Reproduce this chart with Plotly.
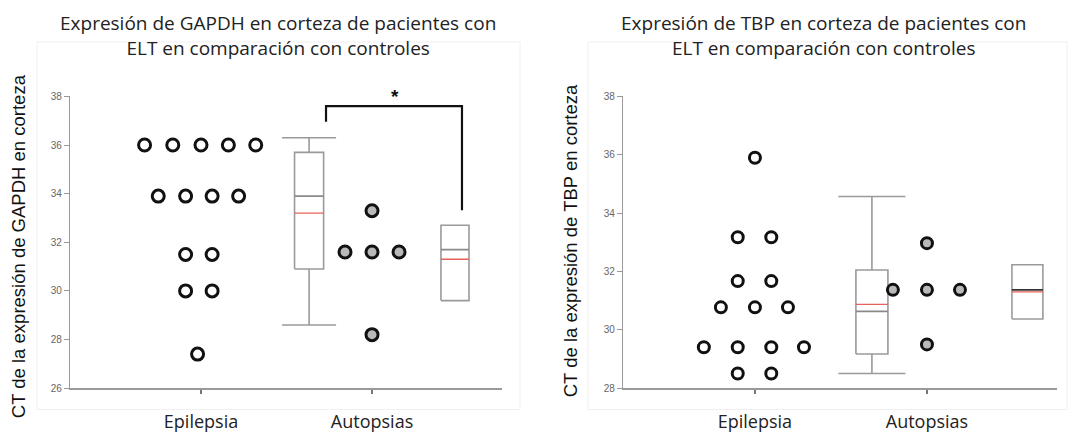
import plotly.graph_objects as go

# ---------------- DATA ----------------
categories = ["Epilepsia", "Autopsias"]

# GAPDH panel (Ct values)
gapdh_epi_values = [36.0, 36.0, 36.0, 36.0, 36.0, 33.9, 33.9, 33.9, 33.9, 31.5, 31.5, 30.0, 30.0, 27.4]
gapdh_epi_offsets = [-0.33, -0.165, 0.0, 0.16, 0.32, -0.25, -0.09, 0.065, 0.22, -0.09, 0.065, -0.09, 0.065, -0.02]
gapdh_aut_values = [33.3, 31.6, 31.6, 31.6, 28.2]
gapdh_aut_offsets = [0.0, -0.158, 0.0, 0.158, 0.0]
gapdh_box_epi = {"lower": 28.6, "q1": 30.9, "median": 33.9, "mean": 33.2, "q3": 35.7, "upper": 36.3}
gapdh_box_aut = {"lower": None, "q1": 29.6, "median": 31.7, "mean": 31.3, "q3": 32.7, "upper": None}
gapdh_sig_levels = [36.96, 37.6, 33.32]   # left foot, bar, right foot
gapdh_sig_label = "*"

# TBP panel (Ct values)
tbp_epi_values = [35.9, 33.17, 33.17, 31.67, 31.67, 30.77, 30.77, 30.77, 29.4, 29.4, 29.4, 29.4, 28.5, 28.5]
tbp_epi_offsets = [0.0, -0.1, 0.095, -0.1, 0.095, -0.198, 0.0, 0.192, -0.297, -0.1, 0.095, 0.285, -0.1, 0.095]
tbp_aut_values = [32.97, 31.37, 31.37, 31.37, 29.5]
tbp_aut_offsets = [0.0, -0.198, 0.0, 0.192, 0.0]
tbp_box_epi = {"lower": 28.5, "q1": 29.17, "median": 30.63, "mean": 30.87, "q3": 32.05, "upper": 34.57}
tbp_box_aut = {"lower": None, "q1": 30.37, "median": 31.37, "mean": 31.3, "q3": 32.23, "upper": None}

titles = ["Expresión de GAPDH en corteza de pacientes con<br>ELT en comparación con controles",
          "Expresión de TBP en corteza de pacientes con<br>ELT en comparación con controles"]
ytitles = ["CT de la expresión de GAPDH en corteza", "CT de la expresión de TBP en corteza"]

# ---------------- FIGURE ----------------
W, H = 1068, 434
fig = go.Figure()

BOX_COLOR = "#9a9a9a"
MEAN_COLOR = "#e8605a"


def add_points(xa, ya, base, offsets, values, fill, size):
    fig.add_trace(go.Scatter(
        x=[base + o for o in offsets], y=values, mode="markers",
        xaxis=xa, yaxis=ya, showlegend=False, hoverinfo="y",
        marker=dict(symbol="circle", size=size, color=fill,
                    line=dict(color="#111111", width=3))))


def add_box(xa, ya, xc, hw, cap_hw, st, median_color):
    x0, x1 = xc - hw, xc + hw
    line = dict(color=BOX_COLOR, width=1.6)
    if st["upper"] is not None:
        fig.add_trace(go.Scatter(
            x=[xc, xc, None, xc, xc, None, xc - cap_hw, xc + cap_hw, None, xc - cap_hw, xc + cap_hw],
            y=[st["q3"], st["upper"], None, st["q1"], st["lower"], None,
               st["upper"], st["upper"], None, st["lower"], st["lower"]],
            mode="lines", line=line, xaxis=xa, yaxis=ya, showlegend=False, hoverinfo="skip"))
    fig.add_trace(go.Scatter(
        x=[x0, x1, x1, x0, x0], y=[st["q1"], st["q1"], st["q3"], st["q3"], st["q1"]],
        mode="lines", line=line, xaxis=xa, yaxis=ya, showlegend=False, hoverinfo="skip"))
    fig.add_trace(go.Scatter(
        x=[x0, x1], y=[st["median"], st["median"]], mode="lines",
        line=dict(color=median_color, width=1.6), xaxis=xa, yaxis=ya, showlegend=False, hoverinfo="skip"))
    fig.add_trace(go.Scatter(
        x=[x0, x1], y=[st["mean"], st["mean"]], mode="lines",
        line=dict(color=MEAN_COLOR, width=1.4), xaxis=xa, yaxis=ya, showlegend=False, hoverinfo="skip"))


# Left panel (GAPDH)
add_box("x", "y", 1.632, 0.085, 0.158, gapdh_box_epi, "#8a8a8a")
add_box("x", "y", 2.485, 0.082, 0.0, gapdh_box_aut, "#8a8a8a")
add_points("x", "y", 1.0, gapdh_epi_offsets, gapdh_epi_values, "white", 12)
add_points("x", "y", 2.0, gapdh_aut_offsets, gapdh_aut_values, "#b9b9b9", 12)

# significance bracket
bx0, bx1 = 1.731, 2.526
fig.add_trace(go.Scatter(
    x=[bx0, bx0, bx1, bx1],
    y=[gapdh_sig_levels[0], gapdh_sig_levels[1], gapdh_sig_levels[1], gapdh_sig_levels[2]],
    mode="lines", line=dict(color="#111111", width=2.2), xaxis="x", yaxis="y",
    showlegend=False, hoverinfo="skip", cliponaxis=False))

# Right panel (TBP)
add_box("x2", "y2", 1.68, 0.093, 0.195, tbp_box_epi, "#8a8a8a")
add_box("x2", "y2", 2.584, 0.09, 0.0, tbp_box_aut, "#333333")
add_points("x2", "y2", 1.0, tbp_epi_offsets, tbp_epi_values, "white", 11)
add_points("x2", "y2", 2.0, tbp_aut_offsets, tbp_aut_values, "#b9b9b9", 11)

ydom = [(H - 393) / H, (H - 93) / H]

xcommon = dict(tickvals=[1, 2], ticktext=categories, showline=True, linecolor="#9a9a9a",
               linewidth=1.5, ticks="outside", ticklen=4, tickcolor="#777777", tickwidth=1.5,
               tickfont=dict(family="Open Sans", size=18, color="#222222"),
               showgrid=False, zeroline=False, ticklabelstandoff=13, fixedrange=True)
ycommon = dict(dtick=2, showline=True, linecolor="#9a9a9a", linewidth=1.3, ticks="outside",
               ticklen=5, tickcolor="#999999",
               tickfont=dict(family="Liberation Sans", size=10, color="#666666"),
               showgrid=False, zeroline=False, domain=ydom, fixedrange=True)

fig.update_layout(
    width=W, height=H, margin=dict(l=0, r=0, t=0, b=0),
    paper_bgcolor="white", plot_bgcolor="white",
    xaxis=dict(domain=[70 / W, 502 / W], range=[0.234, 2.76], anchor="y", **xcommon),
    yaxis=dict(range=[26, 38], anchor="x", **ycommon),
    xaxis2=dict(domain=[623 / W, 1057 / W], range=[0.233, 2.756], anchor="y2", **xcommon),
    yaxis2=dict(range=[28, 38], anchor="x2", **ycommon),
)

# faint frames of the original charts
fig.add_shape(type="rect", xref="paper", yref="paper", x0=37 / W, x1=520 / W,
              y0=(H - 415) / H, y1=(H - 37) / H, line=dict(color="#f0f0f0", width=1), layer="below")
fig.add_shape(type="rect", xref="paper", yref="paper", x0=588 / W, x1=1067 / W,
              y0=(H - 415) / H, y1=(H - 37) / H, line=dict(color="#f0f0f0", width=1), layer="below")

# titles
for cx, t in zip([278, 823], titles):
    fig.add_annotation(text=t, xref="paper", yref="paper", x=cx / W, y=(H - 30) / H,
                       xanchor="center", yanchor="middle", showarrow=False,
                       font=dict(family="Open Sans", size=19, color="#222222"))

# y-axis titles
for cx, cy, t in zip([18, 570], [247, 242], ytitles):
    fig.add_annotation(text=t, xref="paper", yref="paper", x=cx / W, y=(H - cy) / H,
                       xanchor="center", yanchor="middle", textangle=-90, showarrow=False,
                       font=dict(family="Liberation Sans", size=18.5, color="#111111"))

# significance star
fig.add_annotation(text="<b>" + gapdh_sig_label + "</b>", xref="x", yref="y", x=2.135, y=38.0,
                   xanchor="center", yanchor="middle", showarrow=False,
                   font=dict(family="Liberation Sans", size=19, color="#111111"))

fig.write_html("out.html")
